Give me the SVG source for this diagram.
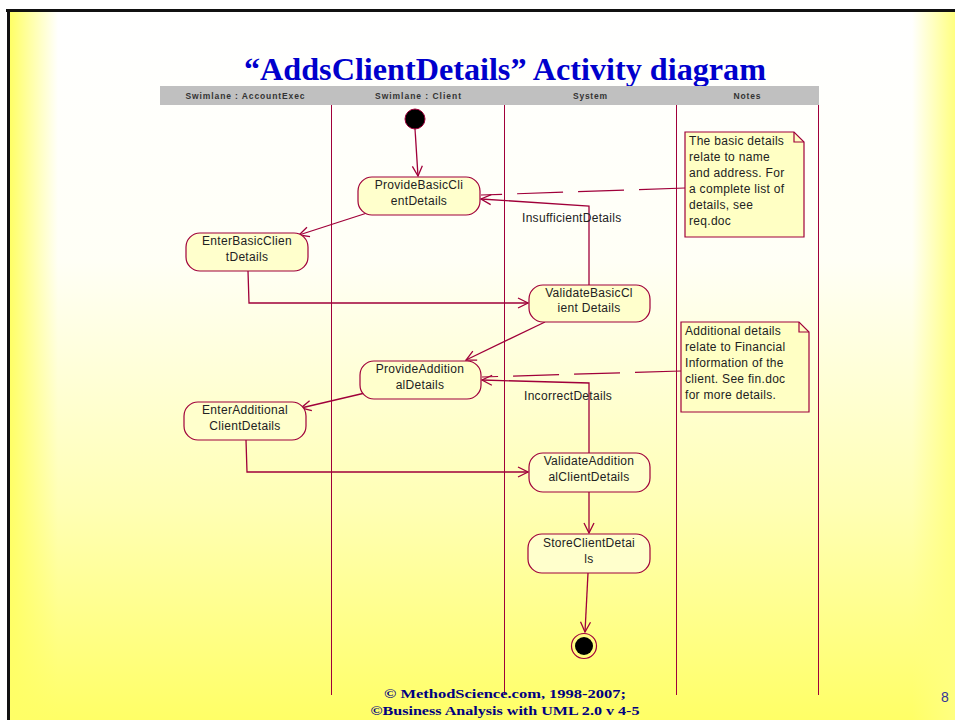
<svg xmlns="http://www.w3.org/2000/svg" width="955" height="720" viewBox="0 0 955 720">
<style>
.act{fill:#FFFFCC;stroke:#A0003A;stroke-width:1.2}
.note{fill:#FFFFC4;stroke:#A0003A;stroke-width:1.2}
.lane{stroke:#A0003A;stroke-width:1}
.con{fill:none;stroke:#A0003A;stroke-width:1.3}
.dash{fill:none;stroke:#A0003A;stroke-width:1.2;stroke-dasharray:46 15}
.t{font-family:"Liberation Sans",Arial,sans-serif;font-size:12px;fill:#222;letter-spacing:0.3px}
.tc{text-anchor:middle}
.hd{font-family:"Liberation Sans",Arial,sans-serif;font-size:8.5px;font-weight:bold;fill:#333;text-anchor:middle}
.ft{font-family:"Liberation Serif",serif;font-size:13px;font-weight:bold;fill:#000080;text-anchor:middle}
</style>
<defs>
<linearGradient id="gv" x1="0" y1="0" x2="0" y2="1">
<stop offset="0" stop-color="#FFFFFF"/>
<stop offset="0.35" stop-color="#FFFFF6"/>
<stop offset="0.7" stop-color="#FFFFB4"/>
<stop offset="1" stop-color="#FFFF66"/>
</linearGradient>
<linearGradient id="gl" x1="0" y1="0" x2="1" y2="0">
<stop offset="0" stop-color="#FFFF66" stop-opacity="1"/>
<stop offset="1" stop-color="#FFFF66" stop-opacity="0"/>
</linearGradient>
<linearGradient id="gr" x1="0" y1="0" x2="1" y2="0">
<stop offset="0" stop-color="#FFFF80" stop-opacity="0"/>
<stop offset="1" stop-color="#FFFF80" stop-opacity="1"/>
</linearGradient>
<marker id="arr" viewBox="0 0 12 12" refX="11" refY="6" markerWidth="12" markerHeight="12" markerUnits="userSpaceOnUse" orient="auto">
<path d="M1,1 L11,6 L1,11" fill="none" stroke="#A0003A" stroke-width="1.3"/>
</marker>
</defs>
<rect x="0" y="0" width="955" height="720" fill="#FFFFFF"/>
<rect x="10" y="12" width="945" height="708" fill="url(#gv)"/>
<rect x="10" y="12" width="48" height="708" fill="url(#gl)"/>
<rect x="912" y="12" width="43" height="708" fill="url(#gr)"/>
<line x1="6" y1="10.5" x2="955" y2="10.5" stroke="#111" stroke-width="3"/>
<line x1="8.5" y1="9" x2="8.5" y2="720" stroke="#111" stroke-width="3"/>

<text x="505" y="80" font-family="Liberation Serif, serif" font-size="32" font-weight="bold" fill="#0000CC" text-anchor="middle" textLength="522" lengthAdjust="spacingAndGlyphs">“AddsClientDetails” Activity diagram</text>

<g id="swimlanes">
<rect x="160" y="86" width="659" height="19" fill="#C0C0C0"/>
<text class="hd" x="245" y="98.5" textLength="119" lengthAdjust="spacing">Swimlane : AccountExec</text>
<text class="hd" x="418" y="98.5" textLength="86" lengthAdjust="spacing">Swimlane : Client</text>
<text class="hd" x="590" y="98.5" textLength="34" lengthAdjust="spacing">System</text>
<text class="hd" x="747" y="98.5" textLength="27" lengthAdjust="spacing">Notes</text>
<line class="lane" x1="331.5" y1="105" x2="331.5" y2="695"/>
<line class="lane" x1="504.5" y1="105" x2="504.5" y2="695"/>
<line class="lane" x1="676.5" y1="105" x2="676.5" y2="695"/>
<line class="lane" x1="818.5" y1="105" x2="818.5" y2="695"/>
</g>

<g id="connectors">
<line class="con" x1="415" y1="129" x2="418" y2="176" marker-end="url(#arr)"/>
<line class="con" x1="367" y1="213" x2="299" y2="235" marker-end="url(#arr)"/>
<polyline class="con" points="248,271 249,303 528,303" marker-end="url(#arr)"/>
<polyline class="con" points="589,285 589,206 481,199" marker-end="url(#arr)"/>
<line class="con" x1="545" y1="322" x2="466" y2="360" marker-end="url(#arr)"/>
<line class="con" x1="365" y1="393" x2="301" y2="408" marker-end="url(#arr)"/>
<polyline class="con" points="246,440 247,472 528,472" marker-end="url(#arr)"/>
<polyline class="con" points="589,453 589,383 482,380" marker-end="url(#arr)"/>
<line class="con" x1="589" y1="492" x2="589" y2="533" marker-end="url(#arr)"/>
<line class="con" x1="588" y1="573" x2="585" y2="632" marker-end="url(#arr)"/>
<line class="dash" x1="685" y1="188" x2="481" y2="195"/>
<line class="dash" x1="681" y1="371" x2="482" y2="377"/>
<text class="t" x="522" y="222">InsufficientDetails</text>
<text class="t" x="524" y="400">IncorrectDetails</text>
</g>

<g id="start">
<circle cx="415" cy="119" r="10" fill="#000" stroke="#A0003A" stroke-width="1"/>
</g>
<g id="ProvideBasicClientDetails">
<rect class="act" x="358" y="177" width="122" height="38" rx="14" ry="14"/>
<text class="t tc" x="419" y="189">ProvideBasicCli</text>
<text class="t tc" x="419" y="205">entDetails</text>
</g>
<g id="EnterBasicClientDetails">
<rect class="act" x="186" y="233" width="122" height="38" rx="14" ry="14"/>
<text class="t tc" x="247" y="245">EnterBasicClien</text>
<text class="t tc" x="247" y="261">tDetails</text>
</g>
<g id="ValidateBasicClientDetails">
<rect class="act" x="529" y="285" width="121" height="37" rx="14" ry="14"/>
<text class="t tc" x="589" y="297">ValidateBasicCl</text>
<text class="t tc" x="589" y="312">ient Details</text>
</g>
<g id="ProvideAdditionalDetails">
<rect class="act" x="360" y="361" width="121" height="38" rx="14" ry="14"/>
<text class="t tc" x="420" y="373">ProvideAddition</text>
<text class="t tc" x="420" y="389">alDetails</text>
</g>
<g id="EnterAdditionalClientDetails">
<rect class="act" x="184" y="402" width="122" height="38" rx="14" ry="14"/>
<text class="t tc" x="245" y="414">EnterAdditional</text>
<text class="t tc" x="245" y="430">ClientDetails</text>
</g>
<g id="ValidateAdditionalClientDetails">
<rect class="act" x="529" y="453" width="121" height="39" rx="14" ry="14"/>
<text class="t tc" x="589" y="465">ValidateAddition</text>
<text class="t tc" x="589" y="481">alClientDetails</text>
</g>
<g id="StoreClientDetails">
<rect class="act" x="528" y="534" width="122" height="39" rx="14" ry="14"/>
<text class="t tc" x="589" y="547">StoreClientDetai</text>
<text class="t tc" x="589" y="563">ls</text>
</g>
<g id="end">
<circle cx="584" cy="646" r="12.5" fill="none" stroke="#A0003A" stroke-width="1.2"/>
<circle cx="584" cy="646" r="9" fill="#000"/>
</g>
<g id="note1">
<path class="note" d="M685,132 H794 L804,142 V237 H685 Z"/>
<path d="M794,132 V142 H804" fill="none" stroke="#A0003A" stroke-width="1.2"/>
<text class="t" x="689" y="145">The basic details</text>
<text class="t" x="689" y="161">relate to name</text>
<text class="t" x="689" y="177">and address. For</text>
<text class="t" x="689" y="193">a complete list of</text>
<text class="t" x="689" y="209">details, see</text>
<text class="t" x="689" y="225">req.doc</text>
</g>
<g id="note2">
<path class="note" d="M681,322 H799 L809,332 V412 H681 Z"/>
<path d="M799,322 V332 H809" fill="none" stroke="#A0003A" stroke-width="1.2"/>
<text class="t" x="685" y="335">Additional details</text>
<text class="t" x="685" y="351">relate to Financial</text>
<text class="t" x="685" y="367">Information of the</text>
<text class="t" x="685" y="383">client. See fin.doc</text>
<text class="t" x="685" y="399">for more details.</text>
</g>

<text class="ft" x="505" y="698" textLength="242" lengthAdjust="spacingAndGlyphs">© MethodScience.com, 1998-2007;</text>
<text class="ft" x="505" y="715" textLength="269" lengthAdjust="spacingAndGlyphs">©Business Analysis with UML 2.0 v 4-5</text>
<text x="945" y="702" font-family="Liberation Sans, Arial, sans-serif" font-size="14" fill="#333399" text-anchor="middle">8</text>
</svg>
